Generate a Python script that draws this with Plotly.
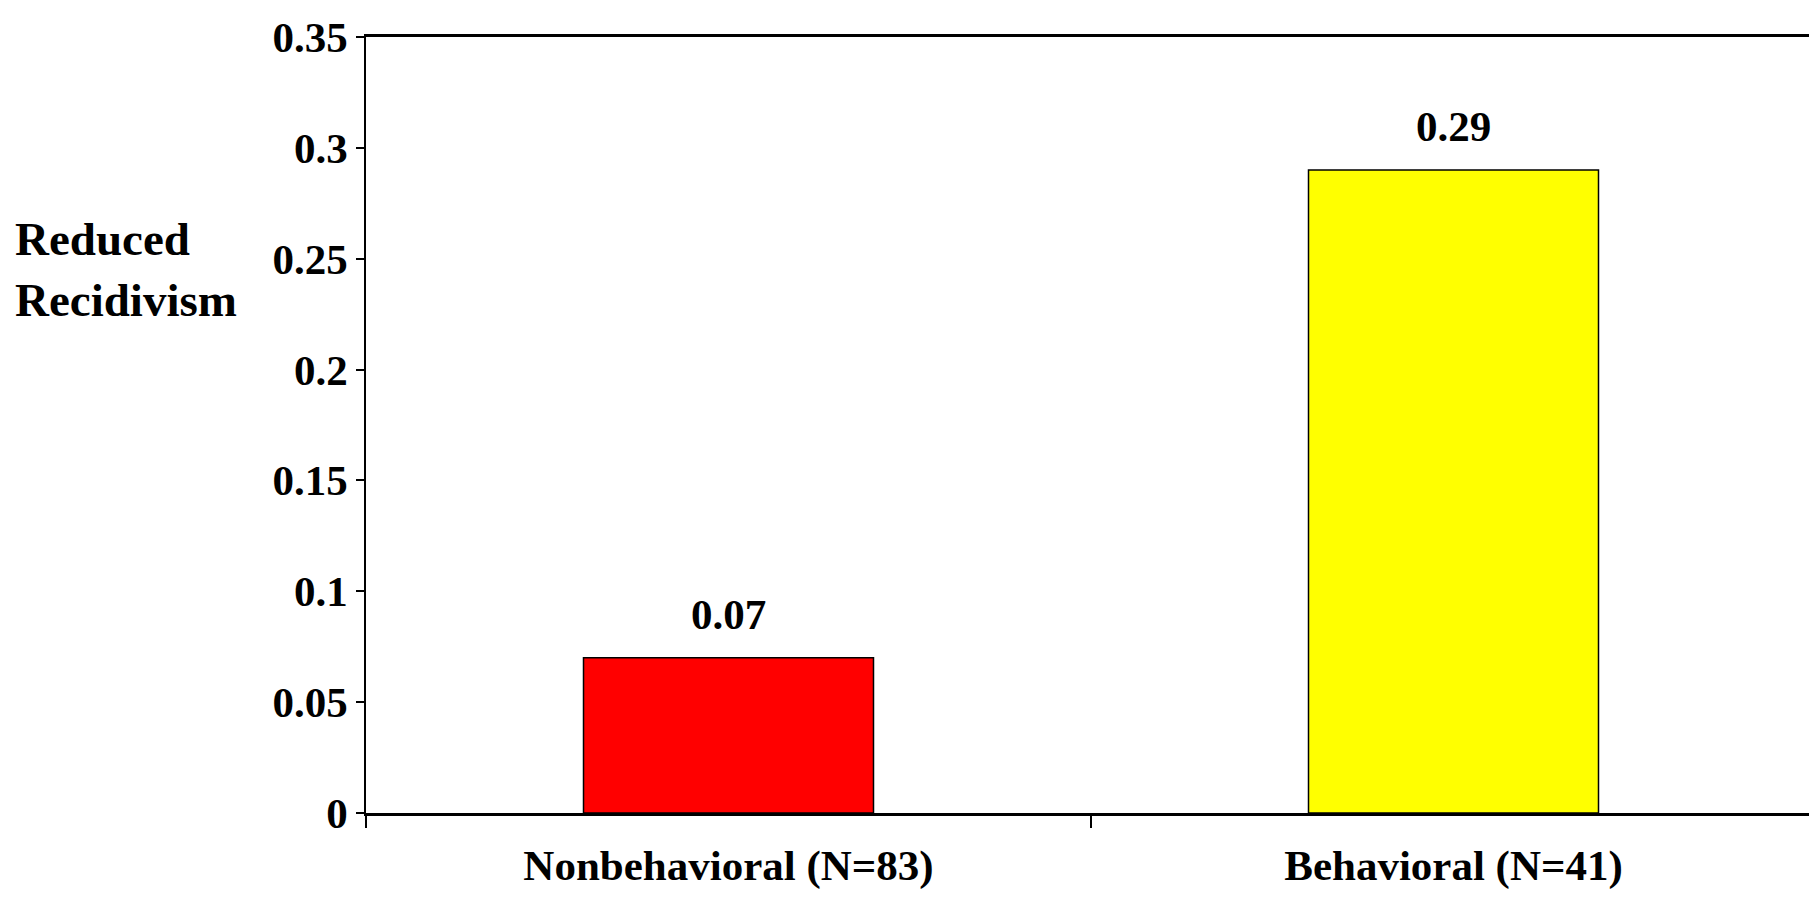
import plotly.graph_objects as go

categories = ["Nonbehavioral (N=83)", "Behavioral (N=41)"]
values = [0.07, 0.29]
labels = ["0.07", "0.29"]
colors = ["#ff0000", "#ffff00"]
yticks = [0, 0.05, 0.1, 0.15, 0.2, 0.25, 0.3, 0.35]
yticklabels = ["0", "0.05", "0.1", "0.15", "0.2", "0.25", "0.3", "0.35"]

font = dict(family="Liberation Serif", size=43, color="black", weight="bold")

fig = go.Figure(go.Bar(
    x=categories, y=values,
    marker=dict(color=colors, line=dict(color="black", width=1.5)),
    width=0.4,
))
for c, v, t in zip(categories, values, labels):
    fig.add_annotation(x=c, y=v, text=t, showarrow=False, yanchor="bottom",
                       yshift=18, font=font)
fig.update_layout(
    width=1817, height=899, plot_bgcolor="white", paper_bgcolor="white",
    margin=dict(l=358, r=9, t=29, b=94, autoexpand=False), showlegend=False,
    font=font,
)
fig.update_xaxes(showline=True, linecolor="black", linewidth=3, mirror=True,
                 ticks="outside", tickson="boundaries", ticklen=12, tickwidth=2,
                 tickcolor="black", tickfont=font, showgrid=False,
                 ticklabelstandoff=12)
fig.update_yaxes(range=[0, 0.35], tickvals=yticks, ticktext=yticklabels,
                 showline=True, linecolor="black", linewidth=1.5,
                 ticks="outside", ticklen=8, tickcolor="black", tickwidth=1.5,
                 tickfont=font, showgrid=False, zeroline=False)
fig.add_annotation(text="Reduced<br>Recidivism", xref="paper", yref="paper",
                   x=-0.2435, y=0.7, xanchor="left", yanchor="middle", showarrow=False,
                   align="left", font=dict(family="Liberation Serif", size=47,
                                           color="black", weight="bold"))
fig.write_html("out.html")
